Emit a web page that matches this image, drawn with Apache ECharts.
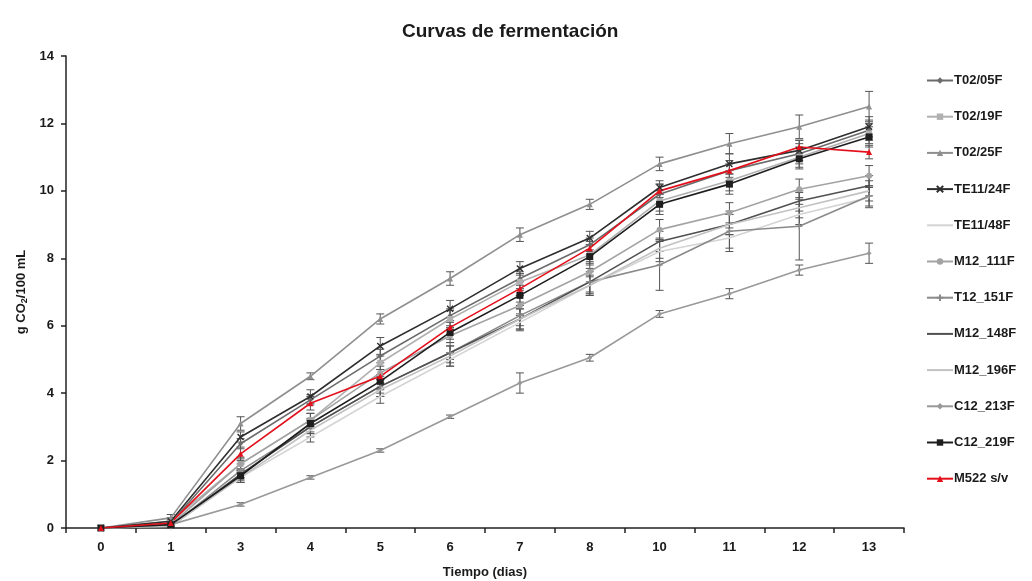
<!DOCTYPE html>
<html>
<head>
<meta charset="utf-8">
<script src="https://cdn.jsdelivr.net/npm/echarts@6/dist/echarts.min.js"></script>
<style>
  html, body { margin: 0; padding: 0; background: #fff; }
  #main { width: 1032px; height: 581px; }
</style>
</head>
<body>
<div id="main"></div>
<script>
// dias de fermentacion (eje x)
const days = ["0", "1", "3", "4", "5", "6", "7", "8", "10", "11", "12", "13"];

// g CO2 / 100 mL por cepa
const t0205 = [0, 0.15, 2.5, 3.8, 5.1, 6.3, 7.4, 8.4, 9.9, 10.6, 11.1, 11.8];
const t0219 = [0, 0.2, 1.9, 3.2, 4.9, 6.2, 7.3, 8.1, 9.7, 10.3, 11.0, 11.7];
const t0225 = [0, 0.3, 3.1, 4.5, 6.2, 7.4, 8.7, 9.6, 10.8, 11.4, 11.9, 12.5];
const te1124 = [0, 0.2, 2.7, 3.9, 5.4, 6.5, 7.7, 8.6, 10.1, 10.8, 11.2, 11.9];
const te1148 = [0, 0.05, 1.5, 2.7, 3.9, 5.0, 6.1, 7.2, 8.2, 8.6, 9.3, 9.8];
const m12111 = [0, 0.1, 1.9, 3.2, 4.6, 5.7, 6.6, 7.6, 8.85, 9.35, 10.05, 10.45];
const t12151 = [0, 0.05, 1.7, 3.0, 4.2, 5.2, 6.3, 7.3, 7.8, 8.8, 8.95, 9.85];
const m12148 = [0, 0.05, 1.6, 3.0, 4.2, 5.2, 6.2, 7.3, 8.5, 9.0, 9.7, 10.15];
const m12196 = [0, 0.05, 1.5, 2.9, 4.1, 5.1, 6.2, 7.2, 8.3, 9.0, 9.5, 10.0];
const c12213 = [0, 0.1, 0.7, 1.5, 2.3, 3.3, 4.3, 5.05, 6.35, 6.95, 7.65, 8.15];
const c12219 = [0, 0.1, 1.55, 3.1, 4.35, 5.8, 6.9, 8.05, 9.6, 10.2, 10.95, 11.6];
const m522 = [0, 0.15, 2.2, 3.7, 4.5, 5.95, 7.1, 8.3, 10.0, 10.6, 11.3, 11.15];

// desviaciones (barras de error)
const errT0205 = [0, 0.1, 0.15, 0.15, 0.2, 0.2, 0.2, 0.2, 0.3, 0.3, 0.3, 0.3];
const errT0219 = [0, 0.1, 0.2, 0.2, 0.2, 0.25, 0.25, 0.3, 0.3, 0.3, 0.3, 0.3];
const errT0225 = [0, 0.1, 0.2, 0.1, 0.15, 0.2, 0.2, 0.15, 0.2, 0.3, 0.35, 0.45];
const errTE1124 = [0, 0.1, 0.15, 0.2, 0.25, 0.25, 0.2, 0.2, 0.2, 0.3, 0.3, 0.3];
const errTE1148 = [0, 0.05, 0.15, 0.15, 0.2, 0.2, 0.25, 0.25, 0.3, 0.3, 0.3, 0.3];
const errM12111 = [0, 0.05, 0.15, 0.2, 0.2, 0.2, 0.3, 0.3, 0.3, 0.3, 0.3, 0.3];
const errT12151 = [0, 0.05, 0.2, 0.2, 0.3, 0.3, 0.3, 0.4, 0.75, 0.6, 1.0, 0.3];
const errM12148 = [0, 0.05, 0.15, 0.2, 0.2, 0.2, 0.3, 0.3, 0.3, 0.3, 0.3, 0.3];
const errM12196 = [0, 0.05, 0.15, 0.2, 0.2, 0.3, 0.3, 0.3, 0.3, 0.3, 0.3, 0.3];
const errC12213 = [0, 0, 0.05, 0.05, 0.05, 0.05, 0.3, 0.1, 0.1, 0.15, 0.15, 0.3];
const errC12219 = [0, 0.05, 0.15, 0.15, 0.2, 0.2, 0.2, 0.2, 0.3, 0.3, 0.3, 0.3];
const errM522 = [0, 0.05, 0.2, 0.2, 0.2, 0.2, 0.2, 0.2, 0.2, 0.2, 0.2, 0.2];

const strains = [
  { name: "T02/05F", data: t0205, err: errT0205, color: "#6b6b6b", symbol: "diamond", size: 5 },
  { name: "T02/19F", data: t0219, err: errT0219, color: "#b0b0b0", symbol: "rect", size: 6 },
  { name: "T02/25F", data: t0225, err: errT0225, color: "#8f8f8f", symbol: "triangle", size: 6 },
  { name: "TE11/24F", data: te1124, err: errTE1124, color: "#2e2e2e", symbol: "path://M0,0L10,10M10,0L0,10", size: 6 },
  { name: "TE11/48F", data: te1148, err: errTE1148, color: "#d4d4d4", symbol: "none", size: 0 },
  { name: "M12_111F", data: m12111, err: errM12111, color: "#a3a3a3", symbol: "circle", size: 6 },
  { name: "T12_151F", data: t12151, err: errT12151, color: "#8a8a8a", symbol: "path://M5,0L5,10M0,5L10,5", size: 6 },
  { name: "M12_148F", data: m12148, err: errM12148, color: "#505050", symbol: "none", size: 0 },
  { name: "M12_196F", data: m12196, err: errM12196, color: "#c2c2c2", symbol: "none", size: 0 },
  { name: "C12_213F", data: c12213, err: errC12213, color: "#999999", symbol: "diamond", size: 5 },
  { name: "C12_219F", data: c12219, err: errC12219, color: "#1e1e1e", symbol: "rect", size: 7 },
  { name: "M522 s/v", data: m522, err: errM522, color: "#e3101c", symbol: "triangle", size: 6 },
];

let chart = echarts.init(document.getElementById("main"));

// barras de error con serie custom
function errorSeries(s) {
  return {
    type: "custom",
    silent: true,
    z: 1,
    data: s.data.map((v, i) => [i, v - s.err[i], v + s.err[i]]),
    renderItem: (params, api) => {
      const lo = api.coord([api.value(0), api.value(1)]);
      const hi = api.coord([api.value(0), api.value(2)]);
      if (Math.abs(hi[1] - lo[1]) < 1) return null;
      const w = 4;
      const st = { stroke: "#555", lineWidth: 1 };
      return {
        type: "group",
        children: [
          { type: "line", shape: { x1: lo[0], y1: lo[1], x2: hi[0], y2: hi[1] }, style: st },
          { type: "line", shape: { x1: lo[0] - w, y1: lo[1], x2: lo[0] + w, y2: lo[1] }, style: st },
          { type: "line", shape: { x1: hi[0] - w, y1: hi[1], x2: hi[0] + w, y2: hi[1] }, style: st },
        ],
      };
    },
  };
}

let series = [];
strains.forEach((s) => series.push(errorSeries(s)));
strains.forEach((s) => {
  series.push({
    name: s.name,
    type: "line",
    data: s.data,
    z: 3,
    symbol: s.symbol,
    symbolSize: s.size,
    showSymbol: s.symbol !== "none",
    color: s.color,
    lineStyle: { color: s.color, width: 1.6 },
    itemStyle: { color: s.color, borderColor: s.color, borderWidth: s.symbol.startsWith("path") ? 1.4 : 0 },
  });
});

// leyenda: sin marcador para las series sin símbolo
const legendData = strains.map((s) =>
  s.symbol === "none" ? { name: s.name, itemStyle: { opacity: 0 } } : { name: s.name }
);

let options = {
  animation: false,
  backgroundColor: "#fff",
  textStyle: { fontFamily: "Liberation Sans, Arial, sans-serif" },
  title: {
    text: "Curvas de fermentación",
    left: 397,
    top: 17,
    textStyle: { color: "#1a1a1a", fontWeight: "bold", fontSize: 19 },
  },
  legend: {
    orient: "vertical",
    left: 921,
    top: 69,
    itemWidth: 26,
    itemHeight: 8,
    itemGap: 23.2,
    data: legendData,
    textStyle: { color: "#1a1a1a", fontWeight: "bold", fontSize: 13, padding: [0, 0, 0, -4] },
  },
  grid: { left: 66, right: 128, top: 56, bottom: 53, outerBoundsMode: "none" },
  xAxis: {
    type: "category",
    data: days,
    boundaryGap: true,
    name: "Tiempo (dias)",
    nameLocation: "middle",
    nameGap: 38,
    nameTextStyle: { color: "#1a1a1a", fontWeight: "bold", fontSize: 13 },
    axisLine: { lineStyle: { color: "#222", width: 1.5 } },
    axisTick: { show: true, alignWithLabel: false, length: 5, lineStyle: { color: "#222", width: 1.5 } },
    axisLabel: { color: "#1a1a1a", fontWeight: "bold", fontSize: 13, margin: 13 },
  },
  yAxis: {
    type: "value",
    min: 0,
    max: 14,
    interval: 2,
    name: "{a|g CO}{s|2}{a|/100 mL}",
    nameLocation: "middle",
    nameGap: 37,
    nameRotate: 90,
    nameTextStyle: {
      rich: {
        a: { color: "#1a1a1a", fontWeight: "bold", fontSize: 13 },
        s: { color: "#1a1a1a", fontWeight: "bold", fontSize: 9, verticalAlign: "bottom", padding: [6, 0, 0, 0] },
      },
    },
    axisLine: { show: true, lineStyle: { color: "#222", width: 1.5 } },
    axisTick: { show: true, length: 5, lineStyle: { color: "#222", width: 1.5 } },
    axisLabel: { color: "#1a1a1a", fontWeight: "bold", fontSize: 13, margin: 12 },
    splitLine: { show: false },
  },
  series: series,
};

chart.setOption(options);
</script>
</body>
</html>
